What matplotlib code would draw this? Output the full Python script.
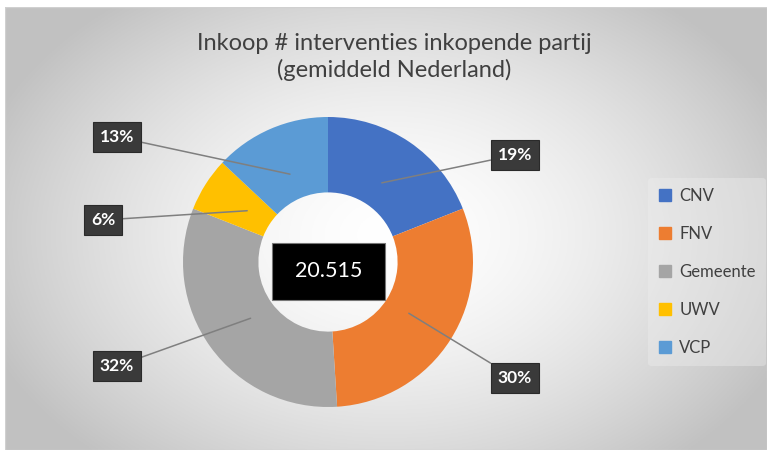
import numpy as np
import matplotlib
matplotlib.use("Agg")
import matplotlib.pyplot as plt
from matplotlib.patches import Rectangle
from matplotlib.lines import Line2D

plt.rcParams['font.family'] = ['Lato', 'DejaVu Sans']

categories = ["CNV", "FNV", "Gemeente", "UWV", "VCP"]
values = [19, 30, 32, 6, 13]
colors = ["#4472C4", "#ED7D31", "#A5A5A5", "#FFC000", "#5B9BD5"]
total_label = "20.515"
title = "Inkoop # interventies inkopende partij\n(gemiddeld Nederland)"

W, H = 772, 455
fig = plt.figure(figsize=(W / 100, H / 100), dpi=100)
fig.patch.set_facecolor("white")

# background panel with radial gradient
bx0, by0, bx1, by1 = 5, 7, 767, 450
bg = fig.add_axes([bx0 / W, (H - by1) / H, (bx1 - bx0) / W, (by1 - by0) / H])
bg.set_axis_off()
nx, ny = 400, 240
xs = np.linspace(bx0, bx1, nx)
ys = np.linspace(by0, by1, ny)
X, Y = np.meshgrid(xs, ys)
cx, cy = 390, 235
d = np.sqrt(((X - cx) / 430) ** 2 + ((Y - cy) / 300) ** 2)
d = np.clip(d, 0, 1)
lum = 1.0 - 0.24 * d ** 1.6
img = np.dstack([lum, lum, lum])
bg.imshow(img, extent=[0, 1, 0, 1], aspect="auto", origin="upper")
bg.add_patch(Rectangle((0, 0), 1, 1, transform=bg.transAxes, fill=False,
                       edgecolor="#d0d0d0", lw=1))

fig.text(394 / W, 1 - 57 / H, title, ha="center", va="center",
         fontsize=17, color="#404040", linespacing=1.3)

# donut
pcx, pcy, R = 328, 262, 145
half = 150
ax = fig.add_axes([(pcx - half) / W, (H - pcy - half) / H, 2 * half / W, 2 * half / H])
wedges, _ = ax.pie(values, colors=colors, startangle=90, counterclock=False,
                   radius=1.0, wedgeprops=dict(width=0.52, edgecolor="none"))
ax.set_xlim(-half / R, half / R)
ax.set_ylim(-half / R, half / R)
ax.set_aspect("equal")
ax.set_axis_off()

# label positions in pixel space
label_px = [(515, 155), (515, 378), (117, 366), (103, 220), (117, 137)]
total = sum(values)
cum = 0
for v, (lx, ly) in zip(values, label_px):
    mid = (cum + v / 2) / total
    cum += v
    ang = np.deg2rad(90 - 360 * mid)
    r = 0.66
    xy = (r * np.cos(ang), r * np.sin(ang))
    xt = ((lx - pcx) / R, (pcy - ly) / R)
    ax.annotate(f"{v}%", xy=xy, xytext=xt, ha="center", va="center",
                fontsize=12.5, fontweight="bold", color="white",
                bbox=dict(boxstyle="square,pad=0.4", fc="#3a3a3a", ec="#2a2a2a", lw=0.8),
                arrowprops=dict(arrowstyle="-", color="#7f7f7f", lw=1.1,
                                shrinkA=0, shrinkB=0),
                annotation_clip=False)

# center box
ax.add_patch(Rectangle(((272 - pcx) / R, (pcy - 300) / R), (385 - 272) / R, (300 - 243) / R,
                       facecolor="black", edgecolor="#777777", lw=0.8, zorder=5))
ax.text((328.5 - pcx) / R, (pcy - 271) / R, total_label, ha="center", va="center",
        color="white", fontsize=15.5, zorder=6)

# legend
handles = [Line2D([0], [0], marker="s", linestyle="none", markersize=8.5,
                  markerfacecolor=c, markeredgecolor=c) for c in colors]
leg = fig.legend(handles, categories, loc="center left",
                 bbox_to_anchor=(640 / W, 1 - 272 / H), frameon=True,
                 fontsize=12, labelspacing=1.32, handlelength=0.8,
                 handletextpad=0.45, borderpad=0.6)
leg.get_frame().set_facecolor("#eeeeee")
leg.get_frame().set_edgecolor("none")
leg.get_frame().set_alpha(0.4)
for t in leg.get_texts():
    t.set_color("#404040")

fig.savefig("out.png", dpi=100, facecolor="white")
